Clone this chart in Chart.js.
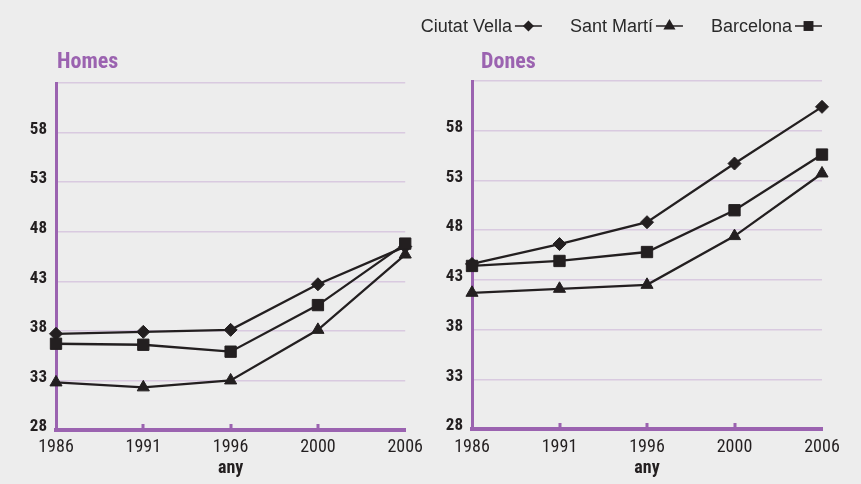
<!DOCTYPE html>
<html>
<head>
<meta charset="utf-8">
<script src="https://cdn.jsdelivr.net/npm/chart.js@4.4.1/dist/chart.umd.min.js"></script>
<style>
    html, body { margin: 0; padding: 0; background: #ededed; }
    #wrap { position: relative; width: 861px; height: 484px; overflow: hidden; }
    .panel { position: absolute; top: 0; height: 484px; }
    #homesPanel { left: 0; width: 430px; }
    #donesPanel { left: 415px; width: 446px; }
</style>
</head>
<body>
<div id="wrap">
    <div class="panel" id="homesPanel"><canvas id="homesChart"></canvas></div>
    <div class="panel" id="donesPanel"><canvas id="donesChart"></canvas></div>
</div>
<script>
// categories (eix x)
var anys = ['1986', '1991', '1996', '2000', '2006'];
var nomsSeries = ['Ciutat Vella', 'Sant Martí', 'Barcelona'];

// Homes
var homesCiutatVella = [37.7, 37.9, 38.1, 42.7, 46.5];
var homesSantMarti   = [32.8, 32.3, 33.0, 38.1, 45.7];
var homesBarcelona   = [36.7, 36.6, 35.9, 40.6, 46.8];

// Dones
var donesCiutatVella = [44.6, 46.6, 48.8, 54.7, 60.4];
var donesSantMarti   = [41.7, 42.1, 42.5, 47.4, 53.7];
var donesBarcelona   = [44.4, 44.9, 45.8, 50.0, 55.6];

// eix y
var yTickValues = [28, 33, 38, 43, 48, 53, 58, 63];
var yTickLabels = ['28', '33', '38', '43', '48', '53', '58', ''];

var LILA = '#9b63b0';
var GRAELLA = '#d9cae0';
var NEGRE = '#231f20';
var NARROW = '"Roboto Condensed", "Liberation Sans Narrow", sans-serif';

function dibuixaMarca(ctx, estil, x, y, r) {
    ctx.beginPath();
    if (estil === 'rectRot') {
        ctx.moveTo(x, y - r);
        ctx.lineTo(x + r, y);
        ctx.lineTo(x, y + r);
        ctx.lineTo(x - r, y);
    } else if (estil === 'triangle') {
        ctx.moveTo(x, y - r);
        ctx.lineTo(x + 0.866 * r, y + 0.5 * r);
        ctx.lineTo(x - 0.866 * r, y + 0.5 * r);
    } else {
        var s = r * Math.SQRT1_2;
        ctx.rect(x - s, y - s, 2 * s, 2 * s);
    }
    ctx.closePath();
    ctx.fill();
}

// titol, petites marques de l'eix x i llegenda
var decoracio = {
    id: 'decoracio',
    afterDraw: function (chart, args, opts) {
        var ctx = chart.ctx;
        var area = chart.chartArea;
        var xScale = chart.scales.x;
        ctx.save();

        // marques interiors de l'eix x
        ctx.fillStyle = LILA;
        for (var i = 1; i < xScale.ticks.length - 1; i++) {
            var px = xScale.getPixelForTick(i);
            ctx.fillRect(Math.round(px) - 1.5, area.bottom - 6, 3, 5);
        }

        // titol del panell
        ctx.font = 'bold 22px ' + NARROW;
        ctx.fillStyle = LILA;
        ctx.textBaseline = 'alphabetic';
        ctx.textAlign = 'left';
        ctx.fillText(opts.titol, area.left + opts.titolDx, opts.titolY);

        // llegenda
        if (opts.llegenda) {
            var ds = chart.data.datasets;
            ctx.font = '18px "Liberation Sans", Arial, sans-serif';
            var amples = ds.map(function (d) { return ctx.measureText(d.label).width; });
            var simbol = 27, sep = 3, entre = 28;
            var total = amples.reduce(function (a, b) { return a + b; }, 0) + ds.length * (sep + simbol) + (ds.length - 1) * entre;
            var x = area.right - total;
            var yb = 32;
            ds.forEach(function (d, k) {
                ctx.fillStyle = '#2a2a2a';
                ctx.fillText(d.label, x, yb);
                x += amples[k] + sep;
                var ym = yb - 6;
                ctx.strokeStyle = NEGRE;
                ctx.lineWidth = 1.5;
                ctx.beginPath();
                ctx.moveTo(x, ym);
                ctx.lineTo(x + simbol, ym);
                ctx.stroke();
                ctx.fillStyle = NEGRE;
                dibuixaMarca(ctx, d.pointStyle, x + simbol / 2, ym, d.pointStyle === 'rect' ? 7 : (d.pointStyle === 'triangle' ? 7 : 5.5));
                x += simbol + entre;
            });
        }
        ctx.restore();
    }
};

function crearPanell(canvasId, titol, titolDx, dades, layout) {
    var estils = ['rectRot', 'triangle', 'rect'];
    var radis = [6.5, 7, 8];
    var ordre = [2, 1, 0];
    var ctx = document.getElementById(canvasId).getContext('2d');
    return new Chart(ctx, {
        type: 'line',
        data: {
            labels: anys,
            datasets: dades.map(function (valors, i) {
                return {
                    label: nomsSeries[i],
                    data: valors,
                    borderColor: NEGRE,
                    backgroundColor: NEGRE,
                    borderWidth: 2.3,
                    pointStyle: estils[i],
                    pointRadius: radis[i],
                    pointHoverRadius: radis[i],
                    pointBorderWidth: 1,
                    pointBackgroundColor: NEGRE,
                    pointBorderColor: NEGRE,
                    tension: 0,
                    clip: false,
                    order: ordre[i]
                };
            })
        },
        plugins: [decoracio],
        options: {
            responsive: true,
            maintainAspectRatio: false,
            animation: false,
            layout: {
                padding: { top: layout.top, right: layout.right, bottom: 0, left: 0 }
            },
            scales: {
                x: {
                    type: 'category',
                    offset: false,
                    grid: { display: false, drawTicks: false },
                    border: { display: true, color: LILA, width: 4 },
                    ticks: {
                        color: NEGRE,
                        padding: layout.xPad,
                        maxRotation: 0,
                        autoSkip: false,
                        font: { family: NARROW, size: 18 }
                    },
                    title: {
                        display: true,
                        text: 'any',
                        color: NEGRE,
                        padding: { top: 0, bottom: 5 },
                        font: { family: NARROW, size: 18, weight: 'bold' }
                    },
                    afterFit: function (scale) { scale.height = layout.xAlt; }
                },
                y: {
                    min: 28,
                    max: 63,
                    afterBuildTicks: function (scale) {
                        scale.ticks = yTickValues.map(function (v) { return { value: v }; });
                    },
                    grid: { color: GRAELLA, lineWidth: 1.5, drawTicks: false },
                    border: { display: true, color: LILA, width: 3 },
                    ticks: {
                        color: NEGRE,
                        padding: 9,
                        labelOffset: -3,
                        font: { family: NARROW, size: 17, weight: 'bold' },
                        callback: function (value, index) { return yTickLabels[index]; }
                    },
                    afterFit: function (scale) { scale.width = layout.yAmp; }
                }
            },
            plugins: {
                legend: { display: false },
                tooltip: { enabled: false },
                decoracio: { titol: titol, titolDx: titolDx, titolY: 68, llegenda: layout.llegenda }
            }
        }
    });
}

crearPanell('homesChart', 'Homes', 1, [homesCiutatVella, homesSantMarti, homesBarcelona],
    { top: 83, right: 23, yAmp: 56, xAlt: 54, xPad: 7, llegenda: false });
crearPanell('donesChart', 'Dones', 9, [donesCiutatVella, donesSantMarti, donesBarcelona],
    { top: 81, right: 39, yAmp: 57, xAlt: 55, xPad: 8, llegenda: true });
</script>
</body>
</html>
